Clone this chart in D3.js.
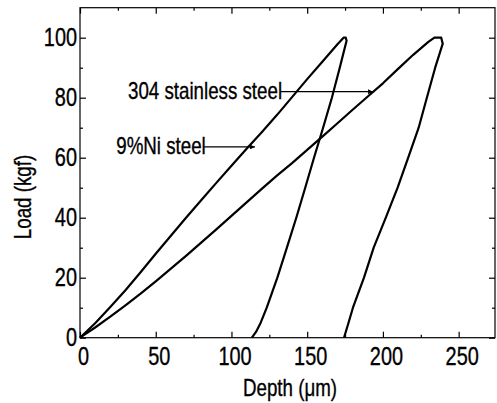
<!DOCTYPE html>
<html>
<head>
<meta charset="utf-8">
<script src="https://cdn.jsdelivr.net/npm/d3@7"></script>
<style>
  html, body { margin: 0; padding: 0; background: #fff; }
  svg { display: block; }
  text { font-family: "Liberation Sans", Arial, sans-serif; fill: #000; stroke: #000; stroke-width: 0.35px; }
</style>
</head>
<body>
<svg id="chart" width="497" height="403"></svg>
<script>
// ---- Data ----
// Steeper loop, labelled "9%Ni steel": loading then unloading
const ni9Depth = [0, 10, 20, 30, 40, 50, 60, 70, 80, 90, 100, 110, 120, 130, 140, 150, 160, 170, 174,
                  175.5, 176, 171.5, 166.3, 160.5, 154.5, 148.7, 142.8, 136.6, 130.3, 123.3, 119.3, 116.3, 113.5];
const ni9Load  = [0, 4.8, 10.2, 15.8, 21.8, 28, 34, 40, 45.8, 51.6, 57.3, 63, 68.5, 74.2, 80.2, 86.2, 92, 97.8, 100,
                  100, 99, 90, 80, 70, 60, 50, 40, 30, 20, 10, 5, 2, 0];
// Wider loop, labelled "304 stainless steel"
const ss304Depth = [0, 10, 20, 30, 40, 50, 60, 70, 80, 90, 100, 110, 120, 130, 140, 150, 160, 170, 180, 190, 200, 210, 220, 230, 234,
                    238.5, 239.5, 234.5, 229, 223.6, 216.7, 209.7, 201.9, 193.9, 187.5, 180.2, 177.3, 175.5, 174.3];
const ss304Load  = [0, 3.4, 7.0, 10.8, 14.7, 18.8, 23, 27.3, 31.7, 36.1, 40.6, 45.1, 49.6, 54, 58.2, 62.6, 67, 71.5, 76, 80.4, 84.8, 89.6, 94.3, 98.6, 100,
                    100, 98, 90, 80, 70, 60, 50, 40, 30, 20, 10, 5, 2, 0];

const xTicks = [0, 50, 100, 150, 200, 250];
const xMinorTicks = [25, 75, 125, 175, 225];
const yTicks = [0, 20, 40, 60, 80, 100];
const yMinorTicks = [10, 30, 50, 70, 90];
const xDomain = [0, 274];
const yDomain = [0, 110];

const xTitle = "Depth (\u03bcm)";
const yTitle = "Load (kgf)";

// annotations: label text, text end (depth), arrow tip (depth, load)
const annLabels = ["304 stainless steel", "9%Ni steel"];
const annTextEnd = [133.4, 83];
const annTipDepth = [193.5, 115.5];
const annTipLoad = [82, 63.6];

// ---- Layout ----
const svg = d3.select("#chart");
const mLeft = 80, mRight = 495, mTop = 7.7, mBottom = 337.7;

const x = d3.scaleLinear().domain(xDomain).range([mLeft, mRight]);
const y = d3.scaleLinear().domain(yDomain).range([mBottom, mTop]);

// frame
svg.append("rect")
  .attr("x", mLeft).attr("y", mTop)
  .attr("width", mRight - mLeft).attr("height", mBottom - mTop)
  .attr("fill", "none").attr("stroke", "#000").attr("stroke-width", 1.2);

function styleAxis(g) {
  g.select(".domain").remove();
  g.selectAll(".tick line").attr("stroke", "#000").attr("stroke-width", 1.2);
}

// bottom axis (major + minor)
svg.append("g").attr("transform", `translate(0,${mBottom})`)
  .call(d3.axisBottom(x).tickValues(xTicks).tickSize(-6).tickPadding(9).tickFormat(d3.format("d")))
  .call(styleAxis)
  .call(g => g.selectAll("text").attr("font-size", 25.5).attr("dx", 3).attr("fill", "#000"));
svg.append("g").attr("transform", `translate(0,${mBottom})`)
  .call(d3.axisBottom(x).tickValues(xMinorTicks).tickSize(-3).tickFormat(""))
  .call(styleAxis);
// top axis
svg.append("g").attr("transform", `translate(0,${mTop})`)
  .call(d3.axisTop(x).tickValues(xTicks).tickSize(-6).tickFormat(""))
  .call(styleAxis);
svg.append("g").attr("transform", `translate(0,${mTop})`)
  .call(d3.axisTop(x).tickValues(xMinorTicks).tickSize(-3).tickFormat(""))
  .call(styleAxis);
// left axis
svg.append("g").attr("transform", `translate(${mLeft},0)`)
  .call(d3.axisLeft(y).tickValues(yTicks).tickSize(-6).tickPadding(3).tickFormat(d3.format("d")))
  .call(styleAxis)
  .call(g => g.selectAll("text").attr("font-size", 25.5).attr("fill", "#000"));
svg.append("g").attr("transform", `translate(${mLeft},0)`)
  .call(d3.axisLeft(y).tickValues(yMinorTicks).tickSize(-3).tickFormat(""))
  .call(styleAxis);
// right axis
svg.append("g").attr("transform", `translate(${mRight},0)`)
  .call(d3.axisRight(y).tickValues(yTicks).tickSize(-6).tickFormat(""))
  .call(styleAxis);
svg.append("g").attr("transform", `translate(${mRight},0)`)
  .call(d3.axisRight(y).tickValues(yMinorTicks).tickSize(-3).tickFormat(""))
  .call(styleAxis);

// axis titles
svg.append("text")
  .attr("x", 290).attr("y", 396)
  .attr("text-anchor", "middle").attr("font-size", 24)
  .text(xTitle);
svg.append("text")
  .attr("transform", "translate(31,197) rotate(-90)")
  .attr("text-anchor", "middle").attr("font-size", 24)
  .text(yTitle);

// curves
const line = d3.line().x(d => x(d[0])).y(d => y(d[1]));
const series = [
  d3.zip(ni9Depth, ni9Load),
  d3.zip(ss304Depth, ss304Load)
];
svg.selectAll("path.curve").data(series).join("path")
  .attr("class", "curve")
  .attr("d", line)
  .attr("fill", "none").attr("stroke", "#000")
  .attr("stroke-width", 2.2).attr("stroke-linejoin", "round");

// annotations
const defs = svg.append("defs");
defs.append("marker")
  .attr("id", "arrow").attr("viewBox", "0 0 10 10")
  .attr("refX", 10).attr("refY", 5)
  .attr("markerWidth", 8).attr("markerHeight", 5)
  .attr("markerUnits", "userSpaceOnUse")
  .attr("orient", "auto")
  .append("path").attr("d", "M0,0 L10,5 L0,10 Z").attr("fill", "#000");

annLabels.forEach((lab, i) => {
  const ty = y(annTipLoad[i]);
  svg.append("line")
    .attr("x1", x(annTextEnd[i]) - 2).attr("y1", ty)
    .attr("x2", x(annTipDepth[i])).attr("y2", ty)
    .attr("stroke", "#000").attr("stroke-width", 1.2)
    .attr("marker-end", "url(#arrow)");
  svg.append("text")
    .attr("x", x(annTextEnd[i])).attr("y", ty + 7.5)
    .attr("text-anchor", "end").attr("font-size", 24)
    .text(lab);
});

// condense all text (the reference uses a narrow, tightly set face)
svg.selectAll("text").each(function () {
  const w = this.getComputedTextLength();
  if (w > 0) {
    d3.select(this).attr("textLength", w * 0.78).attr("lengthAdjust", "spacingAndGlyphs");
  }
});
</script>
</body>
</html>
